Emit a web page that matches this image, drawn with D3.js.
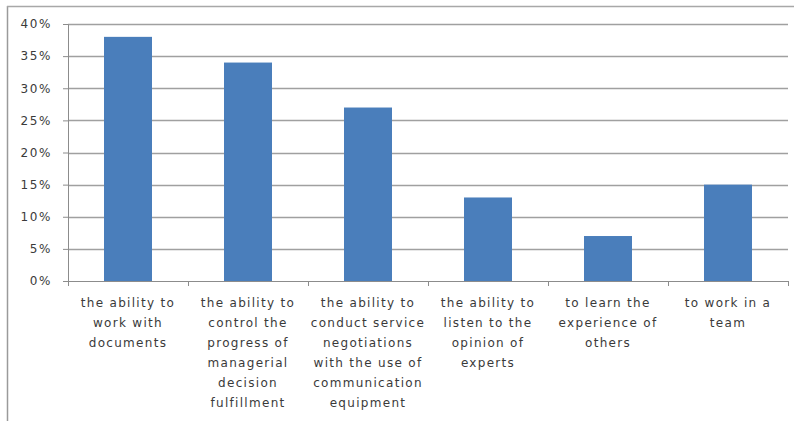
<!DOCTYPE html>
<html>
<head>
<meta charset="utf-8">
<script src="https://cdn.jsdelivr.net/npm/d3@7/dist/d3.min.js"></script>
<style>
  html, body { margin: 0; padding: 0; background: #fff; }
  svg { display: block; }
  text { font-family: "DejaVu Sans", Verdana, sans-serif; fill: #3a3a3a; }
</style>
</head>
<body>
<svg id="chart" width="794" height="421"></svg>
<script>
const categories = [
  ["the ability to", "work with", "documents"],
  ["the ability to", "control the", "progress of", "managerial", "decision", "fulfillment"],
  ["the ability to", "conduct service", "negotiations", "with the use of", "communication", "equipment"],
  ["the ability to", "listen to the", "opinion of", "experts"],
  ["to learn the", "experience of", "others"],
  ["to work in a", "team"]
];
const values = [0.38, 0.34, 0.27, 0.13, 0.07, 0.15];
const yTicks = [0, 0.05, 0.10, 0.15, 0.20, 0.25, 0.30, 0.35, 0.40];

const svg = d3.select("#chart");
const pLeft = 68, pRight = 788, pTop = 24, pBottom = 281;

// frame
svg.append("line").attr("x1", 7.5).attr("x2", 7.5).attr("y1", 6).attr("y2", 421)
  .attr("stroke", "#9a9a9a").attr("stroke-width", 1.5);
svg.append("line").attr("x1", 7).attr("x2", 794).attr("y1", 6.5).attr("y2", 6.5)
  .attr("stroke", "#a8a8a8").attr("stroke-width", 1.5);

const x = d3.scaleBand().domain(d3.range(categories.length)).range([pLeft, pRight]).paddingInner(0.6).paddingOuter(0.3);
const xb = d3.scaleBand().domain(d3.range(categories.length)).range([pLeft, pRight]);
const y = d3.scaleLinear().domain([0, 0.40]).range([pBottom, pTop]);

// gridlines
svg.append("g").selectAll("line").data(yTicks.filter(d => d > 0)).join("line")
  .attr("x1", pLeft).attr("x2", pRight)
  .attr("y1", d => Math.round(y(d)) + 0.5).attr("y2", d => Math.round(y(d)) + 0.5)
  .attr("stroke", "#a0a0a0").attr("stroke-width", 1.3);

// y axis
const yAxis = d3.axisLeft(y).tickValues(yTicks).tickFormat(d3.format(".0%")).tickSize(5).tickPadding(11);
const gy = svg.append("g").attr("transform", `translate(${pLeft},0)`).call(yAxis);
gy.select(".domain").attr("stroke", "#8c8c8c");
gy.selectAll(".tick line").attr("stroke", "#8c8c8c");
gy.selectAll(".tick text").attr("font-size", 12).attr("letter-spacing", "1.6px")
  .attr("font-family", "DejaVu Sans").attr("fill", "#3a3a3a");

// bars
svg.append("g").selectAll("rect").data(values).join("rect")
  .attr("x", (d, i) => x(i)).attr("width", x.bandwidth())
  .attr("y", d => y(d)).attr("height", d => y(0) - y(d))
  .attr("fill", "#4a7ebb");

// x axis
const gx = svg.append("g").attr("transform", `translate(0,${pBottom})`);
gx.append("line").attr("x1", pLeft).attr("x2", pRight).attr("y1", 0.5).attr("y2", 0.5)
  .attr("stroke", "#8c8c8c");
gx.selectAll("line.t").data(d3.range(categories.length + 1)).join("line")
  .attr("class", "t")
  .attr("x1", i => (i < categories.length ? xb(i) : pRight) + 0.5)
  .attr("x2", i => (i < categories.length ? xb(i) : pRight) + 0.5)
  .attr("y1", 0).attr("y2", 5).attr("stroke", "#8c8c8c");

const lbl = svg.append("g").selectAll("text").data(categories).join("text")
  .attr("text-anchor", "middle")
  .attr("font-size", 12).attr("letter-spacing", "1.3px")
  .attr("transform", (d, i) => `translate(${xb(i) + xb.bandwidth() / 2},0)`);
lbl.selectAll("tspan").data(d => d).join("tspan")
  .attr("x", 0).attr("y", (d, j) => 307 + j * 20)
  .text(d => d);
</script>
</body>
</html>
